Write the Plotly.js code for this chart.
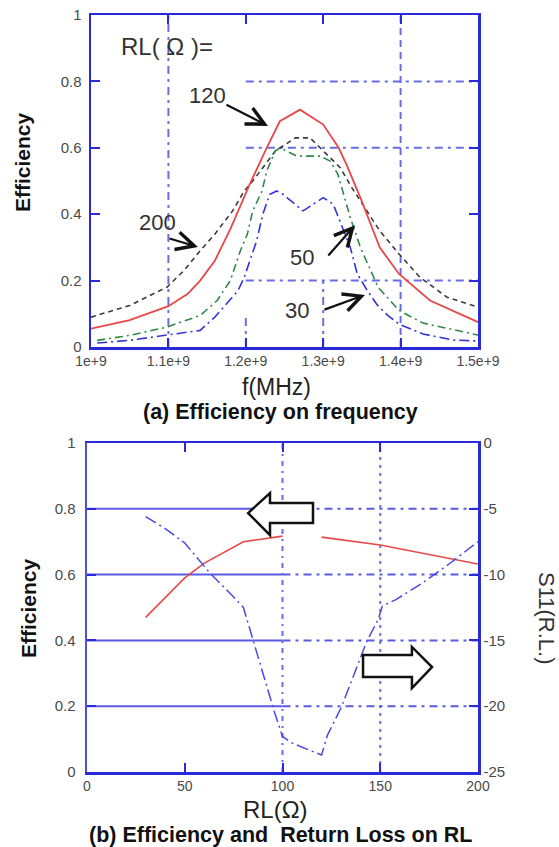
<!DOCTYPE html>
<html><head><meta charset="utf-8">
<script src="https://cdn.plot.ly/plotly-3.0.1.min.js"></script>
<style>html,body{margin:0;padding:0;background:#fff;}#chart{width:559px;height:847px;}</style>
</head><body><div id="chart"></div>
<script>
// ---------- DATA: (a) Efficiency on frequency (x in units of 1e9 Hz) ----------
const freqTicks = [1.0, 1.1, 1.2, 1.3, 1.4, 1.5];
const freqTickLabels = ["1e+9", "1.1e+9", "1.2e+9", "1.3e+9", "1.4e+9", "1.5e+9"];
const effTicks = [0, 0.2, 0.4, 0.6, 0.8, 1];
const effTickLabels = ["0", "0.2", "0.4", "0.6", "0.8", "1"];

const f120 = [1.00, 1.05, 1.10, 1.125, 1.141, 1.16, 1.18, 1.205, 1.227, 1.244, 1.27, 1.30, 1.32, 1.33, 1.348, 1.373, 1.398, 1.438, 1.50];
const eff120 = [0.055, 0.081, 0.123, 0.16, 0.20, 0.26, 0.355, 0.49, 0.60, 0.68, 0.715, 0.67, 0.60, 0.55, 0.45, 0.30, 0.22, 0.14, 0.075];

const f200 = [1.00, 1.05, 1.098, 1.12, 1.141, 1.16, 1.183, 1.198, 1.209, 1.238, 1.264, 1.283, 1.296, 1.322, 1.337, 1.357, 1.373, 1.398, 1.425, 1.46, 1.50];
const eff200 = [0.09, 0.125, 0.18, 0.23, 0.29, 0.34, 0.41, 0.47, 0.50, 0.59, 0.63, 0.63, 0.60, 0.54, 0.48, 0.41, 0.35, 0.28, 0.21, 0.15, 0.12];

const f50 = [1.008, 1.05, 1.098, 1.141, 1.163, 1.18, 1.193, 1.202, 1.209, 1.221, 1.227, 1.238, 1.244, 1.266, 1.296, 1.309, 1.319, 1.328, 1.335, 1.348, 1.36, 1.371, 1.398, 1.429, 1.50];
const eff50 = [0.02, 0.035, 0.06, 0.095, 0.14, 0.20, 0.29, 0.34, 0.41, 0.47, 0.53, 0.59, 0.60, 0.575, 0.575, 0.56, 0.52, 0.45, 0.39, 0.30, 0.24, 0.18, 0.11, 0.072, 0.036];

const f30 = [1.008, 1.05, 1.098, 1.141, 1.16, 1.19, 1.198, 1.205, 1.214, 1.222, 1.231, 1.24, 1.248, 1.274, 1.30, 1.313, 1.325, 1.335, 1.344, 1.357, 1.37, 1.383, 1.398, 1.429, 1.468, 1.50];
const eff30 = [0.012, 0.02, 0.036, 0.05, 0.09, 0.17, 0.21, 0.26, 0.32, 0.40, 0.46, 0.47, 0.46, 0.41, 0.45, 0.43, 0.36, 0.30, 0.22, 0.17, 0.126, 0.096, 0.069, 0.039, 0.021, 0.018];

// ---------- DATA: (b) Efficiency and Return Loss on RL ----------
const rlTicks = [0, 50, 100, 150, 200];
const rlTickLabels = ["0", "50", "100", "150", "200"];
const s11Ticks = [0, -5, -10, -15, -20, -25];
const s11TickLabels = ["0", "-5", "-10", "-15", "-20", "-25"];

const rlEff = [30, 50, 60, 80, 100, 110, 120, 150, 200];
const effRL = [0.47, 0.59, 0.635, 0.70, 0.717, null, 0.714, 0.69, 0.632];

const rlS11 = [30, 40, 50, 56, 63, 75, 80, 85, 92, 96, 100, 105, 113, 120, 123, 130, 135, 143, 149, 151, 158, 172, 186, 200];
const s11 = [-5.6, -6.5, -7.6, -8.7, -9.9, -11.7, -12.5, -15.0, -18.5, -20.5, -22.3, -22.8, -23.3, -23.7, -22.2, -20.1, -18.2, -15.1, -13.4, -12.4, -11.9, -10.6, -9.1, -7.5];

// ---------- LAYOUT HELPERS ----------
const W = 559, H = 847;
const px = x => x / W, py = y => 1 - y / H;
const AX = '#2a2ad8', GRID = '#6b6be6';
const FONT = 'Liberation Sans, Arial, sans-serif';
const tickFont = {family: FONT, size: 15, color: '#4a4a4a'};

const traces = [
  {x: f200, y: eff200, xaxis: 'x', yaxis: 'y', mode: 'lines', line: {color: '#3a3a3a', width: 1.6, dash: '5px,4px'}},
  {x: f50, y: eff50, xaxis: 'x', yaxis: 'y', mode: 'lines', line: {color: '#2f8a45', width: 1.6, dash: '8px,4px,2px,4px'}},
  {x: f30, y: eff30, xaxis: 'x', yaxis: 'y', mode: 'lines', line: {color: '#3434dc', width: 1.6, dash: '10px,4px,2px,4px'}},
  {x: f120, y: eff120, xaxis: 'x', yaxis: 'y', mode: 'lines', line: {color: '#e84848', width: 1.8}},
  {x: rlS11, y: s11, xaxis: 'x2', yaxis: 'y3', mode: 'lines', line: {color: '#4a4ae0', width: 1.5, dash: '12px,4px,2px,4px'}},
  {x: rlEff, y: effRL, xaxis: 'x2', yaxis: 'y2', mode: 'lines', connectgaps: false, line: {color: '#e84848', width: 1.6}}
];

const axCommon = {
  showgrid: false, zeroline: false, showline: true, linecolor: AX, linewidth: 2.5,
  ticks: 'inside', ticklen: 9, tickwidth: 2, tickcolor: AX, tickfont: tickFont, automargin: false, fixedrange: true
};

function seg(xref, yref, x0, y0, x1, y1, dash, color, width) {
  return {type: 'line', xref, yref, x0, y0, x1, y1, layer: 'below',
          line: {color: color || GRID, width: width || 2, dash: dash}};
}
const DD = '8px,5px,3px,5px';
const shapes = [
  // top grid (partial, as in reference)
  seg('x', 'y', 1.1, 0, 1.1, 1, DD),
  seg('x', 'y', 1.4, 0, 1.4, 1, '7px,5px'),
  seg('x', 'y', 1.2, 0, 1.2, 0.1, DD),
  seg('x', 'y', 1.3, 0, 1.3, 0.2, DD),
  seg('x', 'y', 1.2, 0.8, 1.5, 0.8, DD),
  seg('x', 'y', 1.2, 0.6, 1.5, 0.6, DD),
  seg('x', 'y', 1.2, 0.2, 1.5, 0.2, DD),
  // bottom grid
  seg('x2', 'y2', 100, 0, 100, 1, '5px,5px,2px,5px', GRID, 2),
  seg('x2', 'y2', 150, 0, 150, 1, '3px,5px', GRID, 2)
];
[0.2, 0.4, 0.6, 0.8].forEach(v => {
  shapes.push(seg('x2', 'y2', 0, v, 100, v, 'solid', '#5a5ae2', 2));
  shapes.push(seg('x2', 'y2', 100, v, 200, v, DD, '#5a5ae2', 2));
});
// hollow arrows
shapes.push({type: 'path', xref: 'x2', yref: 'y2', layer: 'above', fillcolor: '#ffffff',
  line: {color: '#111', width: 2.5},
  path: 'M 82.4,0.787 L 93.6,0.848 L 93.6,0.818 L 115.6,0.818 L 115.6,0.757 L 93.6,0.757 L 93.6,0.720 Z'});
shapes.push({type: 'path', xref: 'x2', yref: 'y2', layer: 'above', fillcolor: '#ffffff',
  line: {color: '#111', width: 2.5},
  path: 'M 141.2,0.356 L 166.2,0.356 L 166.2,0.380 L 176.5,0.319 L 166.2,0.255 L 166.2,0.289 L 141.2,0.289 Z'});

function txt(text, x, y, size, opts) {
  return Object.assign({text, xref: 'paper', yref: 'paper', x: px(x), y: py(y), xanchor: 'center', yanchor: 'middle',
    showarrow: false, font: {family: FONT, size, color: '#333'}}, opts || {});
}
function arrow(x, y, ax, ay) {
  return {text: '', xref: 'x', yref: 'y', axref: 'x', ayref: 'y', x, y, ax, ay, showarrow: true,
    arrowhead: 5, arrowsize: 1.6, arrowwidth: 2.2, arrowcolor: '#111', standoff: 0, startstandoff: 0};
}

const annotations = [
  txt('RL( Ω )=', 167, 47, 24),
  txt('120', 207, 95, 22),
  txt('200', 157, 222, 22),
  txt('50', 302, 257, 22),
  txt('30', 297, 311, 22),
  arrow(1.2287, 0.666, 1.1731, 0.732),
  arrow(1.1382, 0.301, 1.0995, 0.328),
  arrow(1.3411, 0.367, 1.3049, 0.271),
  arrow(1.3540, 0.157, 1.2997, 0.111),
  txt('<b>Efficiency</b>', 22, 162, 21, {textangle: -90, font: {family: FONT, size: 21, color: '#111'}}),
  txt('f(MHz)', 276, 387, 23, {font: {family: FONT, size: 23, color: '#222'}}),
  txt('<b>(a) Efficiency on frequency</b>', 280, 412, 21.5, {font: {family: FONT, size: 21.5, color: '#111'}}),
  txt('<b>Efficiency</b>', 28, 608, 21, {textangle: -90, font: {family: FONT, size: 21, color: '#111'}}),
  txt('S11(R.L.)', 547, 618, 22, {textangle: 90, font: {family: FONT, size: 22, color: '#333'}}),
  txt('RL(Ω)', 275, 809, 24, {font: {family: FONT, size: 24, color: '#222'}}),
  txt('<b>(b) Efficiency and  Return Loss on RL</b>', 280, 835, 21.5, {font: {family: FONT, size: 21.5, color: '#111'}})
];

const layout = {
  width: W, height: H, autosize: false, showlegend: false,
  margin: {l: 0, r: 0, t: 0, b: 0, pad: 0},
  paper_bgcolor: '#fff', plot_bgcolor: 'rgba(0,0,0,0)',
  xaxis: Object.assign({}, axCommon, {domain: [px(91), px(478)], range: [1.0, 1.5], tickmode: 'array',
    tickvals: freqTicks, ticktext: freqTickLabels, mirror: 'ticks', anchor: 'y', ticklabelstandoff: 0,
    tickfont: {family: FONT, size: 14, color: '#4a4a4a'}}),
  yaxis: Object.assign({}, axCommon, {domain: [py(347), py(15)], range: [0, 1], tickmode: 'array',
    tickvals: effTicks, ticktext: effTickLabels, mirror: 'ticks', anchor: 'x', ticklabelstandoff: 4}),
  xaxis2: Object.assign({}, axCommon, {domain: [px(87), px(478)], range: [0, 200], tickmode: 'array',
    tickvals: rlTicks, ticktext: rlTickLabels, mirror: 'ticks', anchor: 'y2', tickfont: {family: FONT, size: 14, color: '#4a4a4a'}}),
  yaxis2: Object.assign({}, axCommon, {domain: [py(772), py(443)], range: [0, 1], tickmode: 'array',
    tickvals: effTicks, ticktext: effTickLabels, anchor: 'x2', side: 'left', linecolor: '#5050e0', ticklabelstandoff: 6}),
  yaxis3: Object.assign({}, axCommon, {range: [-25, 0], tickmode: 'array', tickvals: s11Ticks, ticktext: s11TickLabels,
    overlaying: 'y2', anchor: 'x2', side: 'right'}),
  shapes, annotations
};

Plotly.newPlot('chart', traces, layout, {staticPlot: true, displayModeBar: false});
</script></body></html>
